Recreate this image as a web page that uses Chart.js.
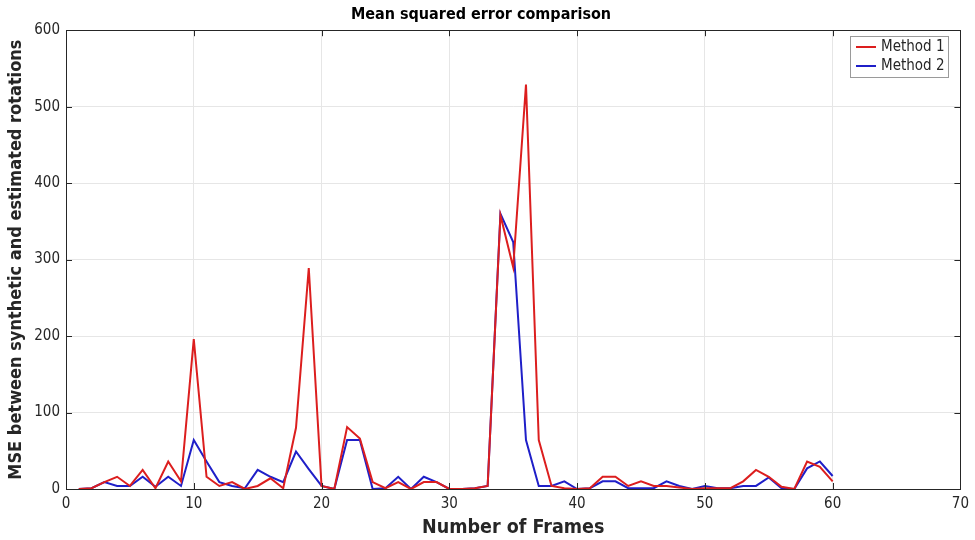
<!DOCTYPE html>
<html>
<head>
<meta charset="utf-8">
<script src="https://cdn.jsdelivr.net/npm/chart.js@4.4.0/dist/chart.umd.min.js"></script>
<style>
  body { margin: 0; background: #fff; }
  #wrap { width: 975px; height: 540px; }
</style>
</head>
<body>
<div id="wrap"><canvas id="mse" width="975" height="540"></canvas></div>
<script>
const frames = [1, 2, 3, 4, 5, 6, 7, 8, 9, 10, 11, 12, 13, 14, 15, 16, 17, 18, 19, 20,
  21, 22, 23, 24, 25, 26, 27, 28, 29, 30, 31, 32, 33, 34, 35, 36, 37, 38, 39, 40,
  41, 42, 43, 44, 45, 46, 47, 48, 49, 50, 51, 52, 53, 54, 55, 56, 57, 58, 59, 60];
const method1 = [0, 1, 9, 16, 4, 25, 1, 36, 10, 196, 16, 4, 9, 0, 4, 14, 1, 80, 289, 4,
  0, 81, 66, 9, 1, 9, 0, 9, 9, 0, 0, 1, 4, 358, 290, 529, 64, 4, 1, 0,
  1, 16, 16, 4, 10, 4, 4, 2, 0, 1, 1, 1, 10, 25, 16, 3, 0, 36, 29, 10];
const method2 = [0, 1, 9, 4, 4, 16, 3, 16, 4, 64, 36, 9, 4, 1, 25, 16, 9, 49, 26, 4,
  0, 64, 64, 0, 1, 16, 0, 16, 9, 0, 0, 1, 4, 360, 323, 64, 4, 4, 10, 0,
  1, 10, 10, 1, 1, 1, 10, 4, 0, 4, 1, 1, 4, 4, 15, 1, 0, 27, 36, 17];
const seriesNames = ['Method 1', 'Method 2'];
const seriesColors = ['#dc1e1e', '#1f1fc8'];
const xTicks = [0, 10, 20, 30, 40, 50, 60, 70];
const yTicks = [0, 100, 200, 300, 400, 500, 600];

const FONT = '"DejaVu Sans Condensed", "DejaVu Sans", sans-serif';
const INK = '#262626';

function points(vals) {
  return frames.map((f, i) => ({ x: f, y: vals[i] }));
}

// box around the axes, inward tick marks and the legend inside the top-right corner
const axesBox = {
  id: 'axesBox',
  afterDraw(chart) {
    const { ctx, chartArea: a, scales } = chart;
    ctx.save();
    ctx.strokeStyle = INK;
    ctx.lineWidth = 1;
    ctx.beginPath();
    xTicks.forEach(v => {
      const px = Math.round(scales.x.getPixelForValue(v)) + 0.5;
      ctx.moveTo(px, a.bottom); ctx.lineTo(px, a.bottom - 6);
      ctx.moveTo(px, a.top); ctx.lineTo(px, a.top + 6);
    });
    yTicks.forEach(v => {
      const py = Math.round(scales.y.getPixelForValue(v)) + 0.5;
      ctx.moveTo(a.left, py); ctx.lineTo(a.left + 6, py);
      ctx.moveTo(a.right, py); ctx.lineTo(a.right - 6, py);
    });
    ctx.stroke();
    ctx.strokeRect(Math.round(a.left) + 0.5, Math.round(a.top) + 0.5,
      Math.round(a.right - a.left), Math.round(a.bottom - a.top));

    // legend
    const lw = 98, lh = 41;
    const lx = Math.round(a.right) - 12 - lw, ly = Math.round(a.top) + 6;
    ctx.fillStyle = '#fff';
    ctx.fillRect(lx, ly, lw, lh);
    ctx.strokeStyle = '#9a9a9a';
    ctx.strokeRect(lx + 0.5, ly + 0.5, lw, lh);
    ctx.font = '15px ' + FONT;
    ctx.textBaseline = 'middle';
    chart.data.datasets.forEach((ds, i) => {
      const yy = ly + 11 + i * 19;
      ctx.strokeStyle = ds.borderColor;
      ctx.lineWidth = 2;
      ctx.beginPath();
      ctx.moveTo(lx + 6, yy); ctx.lineTo(lx + 26, yy);
      ctx.stroke();
      ctx.fillStyle = INK;
      ctx.fillText(ds.label, lx + 31, yy);
    });
    ctx.restore();
  }
};

new Chart(document.getElementById('mse').getContext('2d'), {
  type: 'line',
  data: {
    datasets: [
      { label: seriesNames[0], data: points(method1), borderColor: seriesColors[0],
        borderWidth: 2, pointRadius: 0, tension: 0, fill: false },
      { label: seriesNames[1], data: points(method2), borderColor: seriesColors[1],
        borderWidth: 2, pointRadius: 0, tension: 0, fill: false }
    ]
  },
  options: {
    responsive: false,
    animation: false,
    layout: { padding: { right: 13, left: 0, top: 0, bottom: 0 } },
    plugins: {
      legend: { display: false },
      tooltip: { enabled: false },
      title: {
        display: true,
        text: 'Mean squared error comparison',
        color: '#000',
        font: { family: FONT, size: 16, weight: 'bold' },
        padding: { top: 5, bottom: 6 }
      }
    },
    scales: {
      x: {
        type: 'linear',
        min: 0, max: 70,
        afterBuildTicks(scale) { scale.ticks = xTicks.map(v => ({ value: v })); },
        afterFit(scale) { scale.height = 51; },
        grid: { color: '#e6e6e6', drawTicks: false },
        border: { display: false },
        ticks: { color: INK, font: { family: FONT, size: 15 }, padding: 6, maxRotation: 0 },
        title: {
          display: true, text: 'Number of Frames', color: INK,
          font: { family: FONT, size: 19.5, weight: 'bold' }, padding: { top: 0, bottom: 0 }
        }
      },
      y: {
        min: 0, max: 600,
        afterBuildTicks(scale) { scale.ticks = yTicks.map(v => ({ value: v })); },
        afterFit(scale) { scale.width = 66; },
        grid: { color: '#e6e6e6', drawTicks: false },
        border: { display: false },
        ticks: { color: INK, font: { family: FONT, size: 15 }, padding: 6 },
        title: {
          display: true, text: 'MSE between synthetic and estimated rotations', color: INK,
          font: { family: FONT, size: 18, weight: 'bold' }, padding: { top: 6, bottom: 0 }
        }
      }
    }
  },
  plugins: [axesBox]
});
</script>
</body>
</html>
